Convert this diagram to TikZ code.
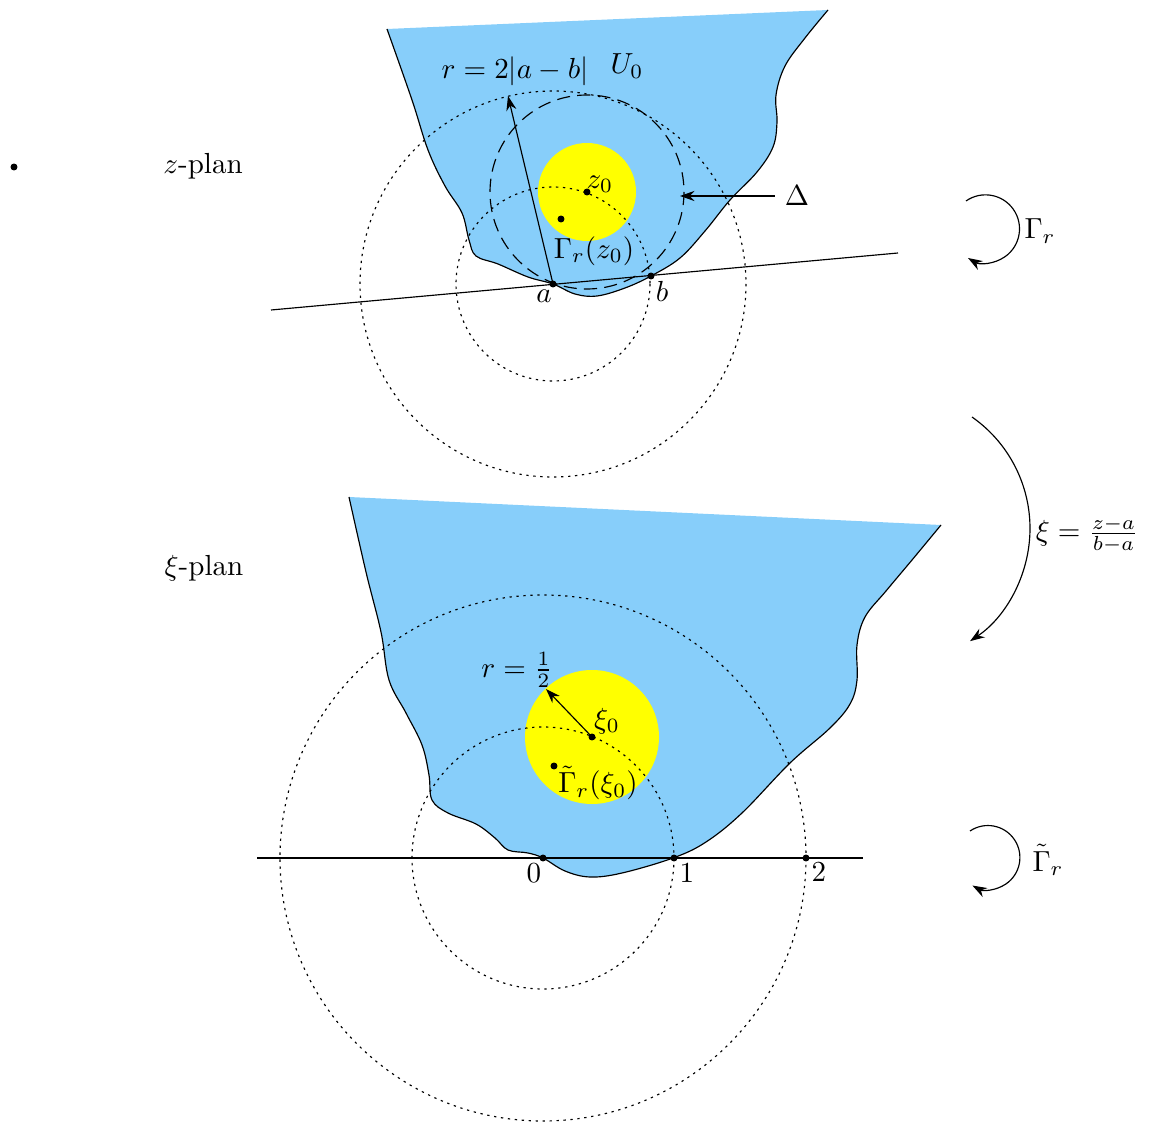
\documentclass[tikz,border=0pt]{standalone}
\usepackage{xcolor}
\usepackage{tikz}
\usetikzlibrary{arrows.meta}
\usepackage{amsmath}
\definecolor{domblue}{RGB}{135,206,250}
\definecolor{discyellow}{RGB}{255,255,0}
\newcommand{\zedge}{plot[smooth, tension=0.6] coordinates {(387,29) (412,100) (428,150) (445,186) (462,213) (469,240) (476,256) (498,264) (528,277) (553,284) (575,294) (597,296) (625,288) (651,276) (680,258) (705,231) (730,200) (757,172) (773,147) (777,122) (776,95) (785,66) (805,38) (828,10)}}
\newcommand{\xiedge}{plot[smooth, tension=0.6] coordinates {(349,497) (366,572) (381,632) (389,680) (406,713) (422,745) (429,775) (432,800) (448,813) (476,824) (495,838) (508,850) (528,853) (543,858) (565,871) (590,877) (622,873) (673,858) (706,842) (742,813) (790,763) (830,728) (850,704) (857,680) (857,645) (865,617) (886,591) (912,560) (941,525)}}

\begin{document}
\begin{tikzpicture}[x=0.0121cm, y=-0.0121cm,
  dotc/.style={dash pattern=on 0.8pt off 1.6pt},
  dashc/.style={dash pattern=on 4.5pt off 2.5pt},
  arr/.style={-{Stealth[length=5pt, width=3.5pt]}},
  pt/.style={circle, fill, inner sep=0pt, minimum size=2.4pt}]
  \useasboundingbox (0,0) rectangle (1151,1125);

  \node[pt] (stray) at (14,167) {};
  \node (zplan) at (203,166) {$z$-plan};
  \node (xiplan) at (204,568) {$\xi$-plan};

  \fill[domblue] \zedge -- cycle;
  \coordinate (a) at (553,284);
  \coordinate (b) at (651,276);
  \coordinate (z0) at (587,192);
  \coordinate (l1) at (271,310);
  \coordinate (l2) at (898,253);
  \coordinate (rtip) at (508,96);
  \coordinate (Dtip) at (680,196);
  \fill[discyellow] (z0) circle[radius=49];
  \draw[dotc] (a) circle[radius=97];
  \draw[dotc] (a) circle[radius=193];
  \draw[dashc] (z0) circle[radius=97];
  \draw \zedge;
  \draw (l1) -- (l2);
  \draw[arr] (a) -- (rtip);
  \node[pt] (adot) at (a) {};
  \node[pt] (bdot) at (b) {};
  \node[pt] (z0dot) at (z0) {};
  \node[pt] (wdot) at (561,219) {};
  \node (rlab) at (515,71) {$r=2|a-b|$};
  \node (U0) at (627,66) {$U_0$};
  \node (z0lab) at (600,184) {$z_0$};
  \node (Gz) at (594,251) {$\Gamma_r(z_0)$};
  \node (alab) at (544,296) {$a$};
  \node (blab) at (662,291) {$b$};
  \node (Dlab) at (797,196) {$\Delta$};
  \draw[arr] (Dlab) -- (Dtip);

  \coordinate (gs) at (966,201);
  \draw[arr] (gs) arc[start angle=-125, end angle=121, radius=34];
  \node (Gr) at (1040,231) {$\Gamma_r$};
  \coordinate (ms) at (972,417);
  \draw[arr] (ms) arc[start angle=-55, end angle=56, radius=136];
  \node (map) at (1087,535) {$\xi=\frac{z-a}{b-a}$};
  \coordinate (gts) at (970,831);
  \draw[arr] (gts) arc[start angle=-124, end angle=119, radius=32];
  \node (Gtr) at (1048,860) {$\tilde\Gamma_r$};

  \fill[domblue] \xiedge -- cycle;
  \coordinate (o) at (543,858);
  \coordinate (one) at (674,858);
  \coordinate (two) at (806,858);
  \coordinate (xi0) at (592,737);
  \coordinate (m1) at (257,858);
  \coordinate (m2) at (863,858);
  \coordinate (htip) at (546,689);
  \fill[discyellow] (xi0) circle[radius=67];
  \draw[dotc] (o) circle[radius=131];
  \draw[dotc] (o) circle[radius=263];
  \draw \xiedge;
  \draw (m1) -- (m2);
  \draw[arr] (xi0) -- (htip);
  \node[pt] (odot) at (o) {};
  \node[pt] (onedot) at (one) {};
  \node[pt] (twodot) at (two) {};
  \node[pt] (xi0dot) at (xi0) {};
  \node[pt] (vdot) at (554,766) {};
  \node (olab) at (534,873) {$0$};
  \node (onelab) at (687,873) {$1$};
  \node (twolab) at (819,872) {$2$};
  \node (hlab) at (517,670) {$r=\frac12$};
  \node (xi0lab) at (607,721) {$\xi_0$};
  \node (Gxi) at (598,783) {$\tilde\Gamma_r(\xi_0)$};
\end{tikzpicture}
\end{document}
